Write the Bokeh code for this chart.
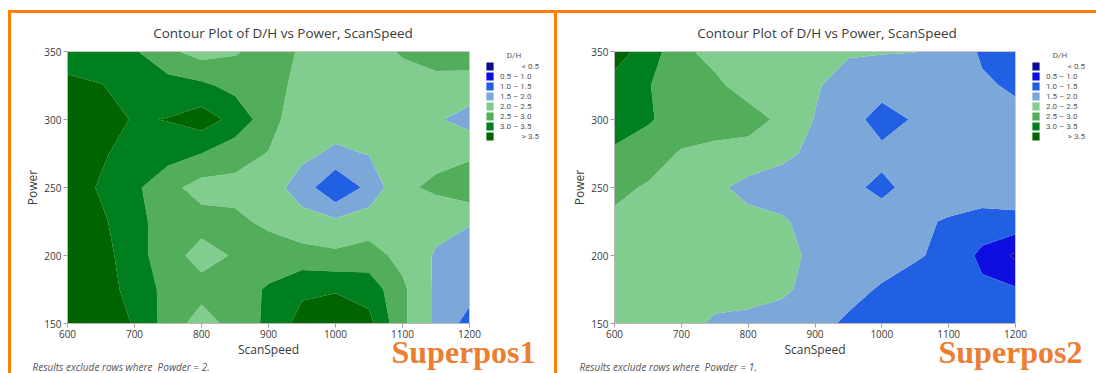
import numpy as np
from bokeh.plotting import figure
from bokeh.models import Range1d, FixedTicker, Legend, LegendItem, Label, Div, Spacer
from bokeh.layouts import row, column
from bokeh.embed import file_html
from bokeh.resources import INLINE

# ---------------- data ----------------
scan_speed = [600, 650, 700, 750, 800, 850, 900, 950, 1000, 1050, 1100, 1150, 1200]
power = [150, 175, 200, 225, 250, 275, 300, 325, 350]

# D/H values, one row per Power (150 -> 350), one column per ScanSpeed
dh_superpos1 = [
    [4.0, 3.9, 3.45, 2.8, 2.25, 2.7, 3.1, 3.7, 3.9, 3.65, 2.6, 1.9, 1.3],
    [3.9, 3.75, 3.3, 2.85, 2.7, 2.8, 3.05, 3.4, 3.45, 3.3, 2.6, 1.9, 1.7],
    [3.9, 3.7, 3.2, 2.72, 2.3, 2.55, 2.75, 2.7, 2.6, 2.7, 2.35, 1.95, 1.7],
    [3.8, 3.58, 3.2, 2.7, 2.7, 2.6, 2.4, 2.15, 2.1, 2.25, 2.3, 2.15, 2.05],
    [3.8, 3.44, 3.1, 2.65, 2.3, 2.35, 2.2, 1.8, 1.02, 1.65, 2.4, 2.6, 2.85],
    [3.8, 3.58, 3.25, 3.2, 3.0, 2.7, 2.48, 2.1, 1.92, 2.02, 2.3, 2.35, 2.4],
    [3.8, 3.75, 3.45, 3.52, 3.75, 3.34, 2.71, 2.15, 2.2, 2.2, 2.15, 2.06, 1.8],
    [3.6, 3.52, 3.3, 3.2, 3.1, 2.85, 2.7, 2.35, 2.2, 2.2, 2.3, 2.35, 2.3],
    [3.3, 3.2, 3.05, 2.6, 2.3, 2.45, 2.7, 2.45, 2.2, 2.3, 2.55, 2.7, 2.75],
]
dh_superpos2 = [
    [2.4, 2.35, 2.25, 1.9, 1.85, 1.8, 1.65, 1.42, 1.3, 1.25, 1.2, 1.2, 1.2],
    [2.4, 2.35, 2.3, 2.25, 2.2, 2.08, 1.85, 1.65, 1.45, 1.3, 1.2, 1.1, 1.05],
    [2.4, 2.35, 2.3, 2.3, 2.25, 2.15, 1.9, 1.8, 1.7, 1.55, 1.38, 0.88, 0.42],
    [2.4, 2.35, 2.3, 2.25, 2.15, 2.05, 1.85, 1.75, 1.7, 1.6, 1.45, 1.3, 1.35],
    [2.62, 2.45, 2.3, 2.1, 1.85, 1.8, 1.7, 1.6, 1.4, 1.65, 1.8, 1.8, 1.8],
    [2.9, 2.75, 2.45, 2.35, 2.3, 2.1, 1.9, 1.75, 1.62, 1.7, 1.75, 1.75, 1.75],
    [3.3, 3.05, 2.8, 2.75, 2.7, 2.4, 1.98, 1.7, 1.3, 1.55, 1.7, 1.65, 1.6],
    [3.35, 3.02, 2.8, 2.6, 2.3, 2.25, 2.05, 1.8, 1.7, 1.7, 1.6, 1.55, 1.45],
    [3.7, 3.3, 2.6, 2.35, 2.25, 2.15, 2.1, 2.05, 2.03, 2.01, 1.75, 1.45, 1.35],
]

levels = [0.0, 0.5, 1.0, 1.5, 2.0, 2.5, 3.0, 3.5, 4.5]
band_labels = ["< 0.5", "0.5 \u2013 1.0", "1.0 \u2013 1.5", "1.5 \u2013 2.0",
               "2.0 \u2013 2.5", "2.5 \u2013 3.0", "3.0 \u2013 3.5", "> 3.5"]
band_colors = ["#0A0A96", "#0E0EE0", "#2160E2", "#7BA7D9",
               "#80CD8F", "#52AE5A", "#007F1F", "#006400"]
x_ticks = [600, 700, 800, 900, 1000, 1100, 1200]
y_ticks = [150, 200, 250, 300, 350]

title_text = "Contour Plot of D/H vs Power, ScanSpeed"
notes = ["Results exclude rows where \u00a0Powder = 2.", "Results exclude rows where \u00a0Powder = 1."]
tags = ["Superpos1", "Superpos2"]

ORANGE = "#FF8000"
TXT = "#3a3a3a"
FONT = "Open Sans"
LEG_FONT = "Roboto"
NB = "\u00a0"


def make_panel(z, note, tag, fig_w, frame_w, area_left):
    # canvas geometry (px): plot area from area_left, width frame_w; top 38, height 272
    fig_h, area_h, area_top, border_top = 360, 272, 38, 33
    x0, x1 = scan_speed[0], scan_speed[-1]
    y0, y1 = power[0], power[-1]
    sx = (x1 - x0) / frame_w
    sy = (y1 - y0) / area_h
    right_px = fig_w - area_left - frame_w
    bottom_px = fig_h - area_top - area_h

    p = figure(width=fig_w, height=fig_h,
               x_range=Range1d(x0 - area_left * sx, x1 + right_px * sx),
               y_range=Range1d(y0 - bottom_px * sy, y1 + (area_top - border_top) * sy),
               output_backend="svg", toolbar_location=None,
               min_border_left=0, min_border_right=0,
               min_border_top=border_top, min_border_bottom=0,
               background_fill_color="white", border_fill_color="white")
    p.outline_line_color = None

    p.contour(x=scan_speed, y=power, z=np.array(z), levels=levels,
              fill_color=band_colors, line_color=None)
    # plot-area border
    p.quad(left=[x0], right=[x1], bottom=[y0], top=[y1],
           fill_color=None, line_color="#c8c8c8", line_width=1)

    p.title.text = title_text
    p.title.text_font = FONT
    p.title.text_font_size = "13.5px"
    p.title.text_font_style = "normal"
    p.title.text_color = TXT
    p.title.align = "center"
    p.title.standoff = 10

    p.xaxis.fixed_location = y0
    p.yaxis.fixed_location = x0
    p.xaxis.bounds = (x0, x1)
    p.yaxis.bounds = (y0, y1)
    p.xaxis.ticker = FixedTicker(ticks=x_ticks)
    p.yaxis.ticker = FixedTicker(ticks=y_ticks)
    p.xaxis.axis_label = "ScanSpeed"
    p.yaxis.axis_label = "Power"
    for ax in (p.xaxis[0], p.yaxis[0]):
        ax.axis_label_text_font = FONT
        ax.axis_label_text_font_size = "12px"
        ax.axis_label_text_font_style = "normal"
        ax.axis_label_text_color = TXT
        ax.major_label_text_font = FONT
        ax.major_label_text_font_size = "10px"
        ax.major_label_text_color = "#3a3a3a"
        ax.axis_line_color = "#b8b8b8"
        ax.major_tick_line_color = "#a0a0a0"
        ax.minor_tick_line_color = None
        ax.major_tick_out = 4
        ax.major_tick_in = 0
    p.xaxis.major_label_standoff = 2
    p.xaxis.axis_label_standoff = 0
    p.yaxis.major_label_standoff = 2
    p.yaxis.axis_label_standoff = 0
    p.grid.visible = False

    items = []
    for lab, col in zip(band_labels, band_colors):
        r = p.quad(left=[np.nan], right=[np.nan], top=[np.nan], bottom=[np.nan],
                   fill_color=col, line_color=None)
        if lab.startswith("<") or lab.startswith(">"):
            lab = NB * 11 + lab
        items.append(LegendItem(label=lab, renderers=[r]))
    legend = Legend(items=items, location=(area_left + frame_w + 16, fig_h - 128),
                    title=NB * 11 + "D/H",
                    padding=0, margin=0, spacing=0, label_standoff=6,
                    glyph_width=9, glyph_height=10, label_height=9,
                    label_text_font=LEG_FONT, label_text_font_size="8px",
                    label_text_color="#555555",
                    title_text_font=LEG_FONT, title_text_font_size="8px",
                    title_text_font_style="normal", title_text_color="#555555",
                    title_standoff=1,
                    background_fill_alpha=0, border_line_color=None)
    p.add_layout(legend)

    p.add_layout(Label(x=x0 + 324 * sx, y=y0 - 28.3 * sy, text=tag,
                       text_font="Liberation Serif", text_font_size="32px",
                       text_font_style="bold", text_color="#ED7D31",
                       text_baseline="middle", text_align="left"))
    p.add_layout(Label(x=x0 - 35 * sx, y=y0 - 43.8 * sy, text=note,
                       text_font=FONT, text_font_size="10px",
                       text_font_style="italic", text_color="#555555",
                       text_baseline="middle", text_align="left"))
    return p


p1 = make_panel(dh_superpos1, notes[0], tags[0], 543, 402, 56)
p2 = make_panel(dh_superpos2, notes[1], tags[1], 539, 401, 57)

top_gap = Spacer(width=1096, height=10, margin=0)
top_line = Div(text="", width=1088, height=3, margin=0, styles={"background-color": ORANGE})
v1 = Div(text="", width=3, height=360, margin=0, styles={"background-color": ORANGE})
v2 = Div(text="", width=3, height=360, margin=0, styles={"background-color": ORANGE})

layout = column(top_gap,
                row(Spacer(width=8, height=3, margin=0), top_line, spacing=0),
                row(Spacer(width=8, height=360, margin=0), v1, p1, v2, p2, spacing=0),
                spacing=0)

open("out.html", "w").write(file_html(layout, INLINE))
